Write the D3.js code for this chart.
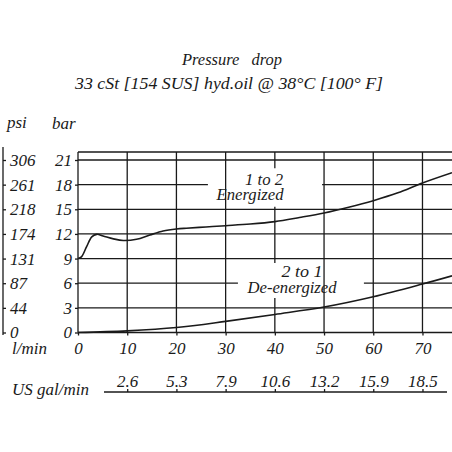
<!DOCTYPE html>
<html>
<head>
<meta charset="utf-8">
<script src="https://cdn.jsdelivr.net/npm/d3@7"></script>
<style>
  body { margin: 0; background: #fff; }
  text { font-family: "Liberation Serif", "Times New Roman", serif; font-style: italic; fill: #1a1a1a; }
</style>
</head>
<body>
<svg width="452" height="452"></svg>
<script>
// flow in l/min, pressure drop in bar
var energized_flow = [0, 0.7, 1.75, 2.8, 3.8, 5.1, 7.2, 9.2, 11.9, 14.6, 17.3, 20, 22, 26, 30, 35, 40, 45, 50, 55, 60, 65, 70, 76];
var energized_bar  = [9.0, 9.2, 10.45, 11.65, 11.95, 11.75, 11.4, 11.2, 11.35, 11.87, 12.35, 12.6, 12.7, 12.85, 13.0, 13.2, 13.5, 14.0, 14.55, 15.25, 16.05, 17.0, 18.2, 19.45];

var deenergized_flow = [0, 10, 20, 30, 40, 50, 60, 70, 76];
var deenergized_bar  = [0, 0.2, 0.6, 1.35, 2.2, 3.1, 4.35, 5.9, 6.9];

var bar_ticks = [0, 3, 6, 9, 12, 15, 18, 21];
var psi_labels = ["0", "44", "87", "131", "174", "218", "261", "306"];
var flow_ticks = [0, 10, 20, 30, 40, 50, 60, 70];
var gal_ticks = [10, 20, 30, 40, 50, 60, 70];
var gal_labels = ["2.6", "5.3", "7.9", "10.6", "13.2", "15.9", "18.5"];

const svg = d3.select("svg");
const ink = "#1a1a1a";

var x = d3.scaleLinear().domain([0, 76]).range([78, 452]);
var y = d3.scaleLinear().domain([0, 21]).range([332.5, 160]);
const frame_top = 152;

// grid gaps where the curve labels sit
var h_gaps = { 18: [26.4, 49.6], 6: [32.5, 58.1] };
var v_gaps = { 40: [[15.3, 20.0], [4.2, 8.46]] };

var grid = svg.append("g").attr("stroke", ink).attr("stroke-width", 1.3);

// frame top + left
grid.append("line").attr("x1", x(0)).attr("x2", 452).attr("y1", frame_top).attr("y2", frame_top);
grid.append("line").attr("x1", x(0)).attr("x2", x(0)).attr("y1", frame_top).attr("y2", y(0));

bar_ticks.forEach(function(b) {
    var segs = [[0, 76]];
    if (h_gaps[b]) segs = [[0, h_gaps[b][0]], [h_gaps[b][1], 76]];
    segs.forEach(function(s) {
        grid.append("line")
            .attr("x1", x(s[0])).attr("x2", s[1] >= 76 ? 452 : x(s[1]))
            .attr("y1", y(b)).attr("y2", y(b));
    });
});

flow_ticks.filter(function(f) { return f > 0; }).forEach(function(f) {
    var segs = [[y(0), frame_top]];
    if (v_gaps[f]) {
        segs = [];
        var top = frame_top;
        v_gaps[f].forEach(function(g) {
            segs.push([y(g[1]), top]);
            top = y(g[0]);
        });
        segs.push([y(0), top]);
    }
    segs.forEach(function(s) {
        grid.append("line")
            .attr("x1", x(f)).attr("x2", x(f))
            .attr("y1", s[0]).attr("y2", s[1]);
    });
});

// bar axis
var barAxis = svg.append("g")
    .attr("transform", "translate(" + x(0) + ",0)")
    .call(d3.axisLeft(y).tickValues(bar_ticks).tickSize(3).tickPadding(3).tickFormat(d3.format("d")));

// flow axis
var flowAxis = svg.append("g")
    .attr("transform", "translate(0," + y(0) + ")")
    .call(d3.axisBottom(x).tickValues(flow_ticks).tickSize(3).tickPadding(6).tickFormat(d3.format("d")));

// psi axis at far left
var psiAxis = svg.append("g")
    .attr("transform", "translate(3,0)")
    .call(d3.axisRight(y).tickValues(bar_ticks).tickSize(3).tickPadding(4)
        .tickFormat(function(d, i) { return psi_labels[i]; }));
psiAxis.select(".domain").remove();
psiAxis.append("line").attr("x1", 0).attr("x2", 0).attr("y1", 147).attr("y2", 335)
    .attr("stroke", ink).attr("stroke-width", 1.3);

// US gal/min axis
var galAxis = svg.append("g")
    .attr("transform", "translate(0,392)")
    .call(d3.axisTop(x).tickValues(gal_ticks).tickSize(3).tickPadding(2)
        .tickFormat(function(d, i) { return gal_labels[i]; }));
galAxis.select(".domain").remove();
galAxis.append("line").attr("x1", 104).attr("x2", 447).attr("y1", 0).attr("y2", 0)
    .attr("stroke", ink).attr("stroke-width", 1.3);

[barAxis, flowAxis, galAxis].forEach(function(a) { a.select(".domain").remove(); });
[barAxis, flowAxis, psiAxis, galAxis].forEach(function(a) {
    a.selectAll(".tick line").attr("stroke", ink).attr("stroke-width", 1.3);
    a.selectAll(".tick text").style("font-size", "17px").attr("fill", ink);
});

// curves
var line = d3.line()
    .x(function(d) { return x(d[0]); })
    .y(function(d) { return y(d[1]); })
    .curve(d3.curveCatmullRom.alpha(0.5));

svg.append("path")
    .datum(d3.zip(energized_flow, energized_bar))
    .attr("fill", "none").attr("stroke", ink).attr("stroke-width", 1.6)
    .attr("d", line);
svg.append("path")
    .datum(d3.zip(deenergized_flow, deenergized_bar))
    .attr("fill", "none").attr("stroke", ink).attr("stroke-width", 1.6)
    .attr("d", line);

// texts
function label(t, px, py, size, anchor, len) {
    var el = svg.append("text").attr("x", px).attr("y", py)
        .attr("text-anchor", anchor || "start")
        .style("font-size", size + "px")
        .style("white-space", "pre")
        .text(t);
    if (len) el.attr("textLength", len).attr("lengthAdjust", "spacingAndGlyphs");
}
label("Pressure   drop", 232, 65, 16, "middle", 100);
label("33 cSt [154 SUS] hyd.oil @ 38°C [100° F]", 229, 89, 16.5, "middle", 308);
label("psi", 7, 128, 17);
label("bar", 52, 129, 17);
label("l/min", 12, 354, 17);
label("US gal/min", 12, 395, 17);
label("1 to 2", 264, 185, 16, "middle", 38);
label("Energized", 250, 200, 16, "middle", 67);
label("2 to 1", 302, 277, 16, "middle", 41);
label("De-energized", 292, 293, 16, "middle", 89);
</script>
</body>
</html>
